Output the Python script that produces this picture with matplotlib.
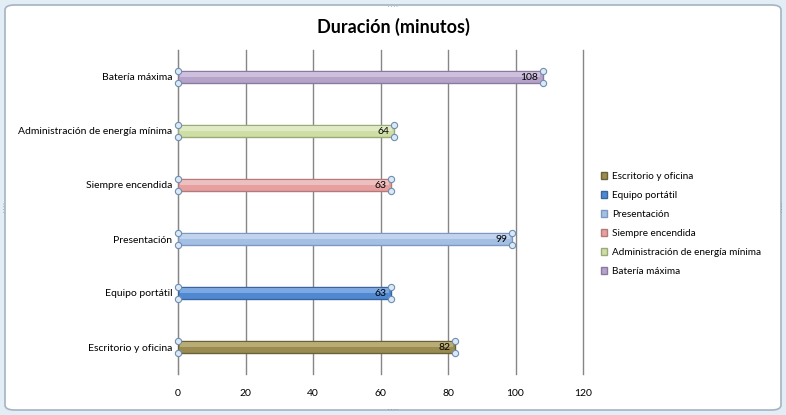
import matplotlib.pyplot as plt
from matplotlib.patches import FancyBboxPatch, Patch

# datos
categorias = ["Escritorio y oficina", "Equipo portátil", "Presentación",
              "Siempre encendida", "Administración de energía mínima", "Batería máxima"]
minutos = [82, 63, 99, 63, 64, 108]
xticks = [0, 20, 40, 60, 80, 100, 120]

colores = ["#9a8c50", "#5089d2", "#a4bfe4", "#e6a0a0", "#cfdea4", "#b5a3ca"]
bordes = ["#6b6138", "#3a659c", "#7d98c2", "#b47a7a", "#9aaa78", "#8a7aa0"]
brillos = ["#c4b882", "#8db4e8", "#cbdbf1", "#f2caca", "#e6efcf", "#d6cae4"]

plt.rcParams['font.family'] = ['Lato', 'DejaVu Sans']

fig = plt.figure(figsize=(7.86, 4.15), dpi=100)
fig.patch.set_facecolor("#e3edf6")

# marco del gráfico
marco = FancyBboxPatch((5 / 786, 5 / 415), 776 / 786, 405 / 415,
                       boxstyle="round,pad=0,rounding_size=0.012",
                       transform=fig.transFigure, facecolor="white",
                       edgecolor="#a5b3c2", linewidth=1.2, zorder=-10)
fig.patches.append(marco)

ax = fig.add_axes([178 / 786, 41 / 415, 405 / 786, 324 / 415])
ax.set_facecolor("none")
ax.set_zorder(5)

y = list(range(len(categorias)))
alto = 0.24
for i, (v, c, b, br) in enumerate(zip(minutos, colores, bordes, brillos)):
    ax.barh(i, v, height=alto, color=c, edgecolor=b, linewidth=1.0,
            label=categorias[i], zorder=3)
    # brillo en la mitad superior
    ax.barh(i + alto * 0.2, v - 1.2, height=alto * 0.42, left=0.6, color=br,
            linewidth=0, alpha=0.75, zorder=4)
    ax.annotate(str(v), (v, i), xytext=(-3, 0), textcoords="offset points",
                ha="right", va="center", fontsize=7.5, color="black", zorder=6)
    # tiradores de selección
    ax.plot([0, 0, v, v], [i + alto / 2, i - alto / 2, i + alto / 2, i - alto / 2],
            ls="none", marker="o", ms=4.5, mfc="#dbe8f5", mec="#6f8fb0",
            mew=0.8, clip_on=False, zorder=7)

ax.set_xlim(0, 120)
ax.set_ylim(-0.5, len(categorias) - 0.5)
ax.set_xticks(xticks)
ax.set_yticks(y)
ax.set_yticklabels(categorias)
ax.tick_params(axis="both", length=0, labelsize=7.5)
ax.tick_params(axis="x", pad=11)
ax.tick_params(axis="y", pad=4)
ax.grid(axis="x", color="#868686", linewidth=1.0, zorder=0)
for gl in ax.get_xgridlines():
    gl.set_clip_on(False)
for s in ["top", "right", "bottom"]:
    ax.spines[s].set_visible(False)
ax.spines["left"].set_color("#868686")

fig.text(393 / 786, 1 - 27 / 415, "Duración (minutos)", ha="center", va="center",
         fontsize=13, fontweight="bold")

handles = [Patch(facecolor=c, edgecolor=b) for c, b in zip(colores, bordes)]
leg = fig.legend(handles, categorias, loc="center left",
                 bbox_to_anchor=(592 / 786, 1 - 224 / 415), frameon=False,
                 fontsize=7.2, handlelength=0.6, handleheight=0.6,
                 handletextpad=0.5, labelspacing=1.0)

# puntos de agarre del marco
for (xx, yy, rot) in [(0.5, 1 - 6 / 415, 0), (0.5, 6 / 415, 0),
                      (4 / 786, 0.5, 90), (1 - 4 / 786, 0.5, 90)]:
    fig.text(xx, yy, "· · · ·", ha="center", va="center", fontsize=4,
             color="#7f8a96", rotation=rot)

fig.savefig("out.png", dpi=100, facecolor=fig.get_facecolor())
